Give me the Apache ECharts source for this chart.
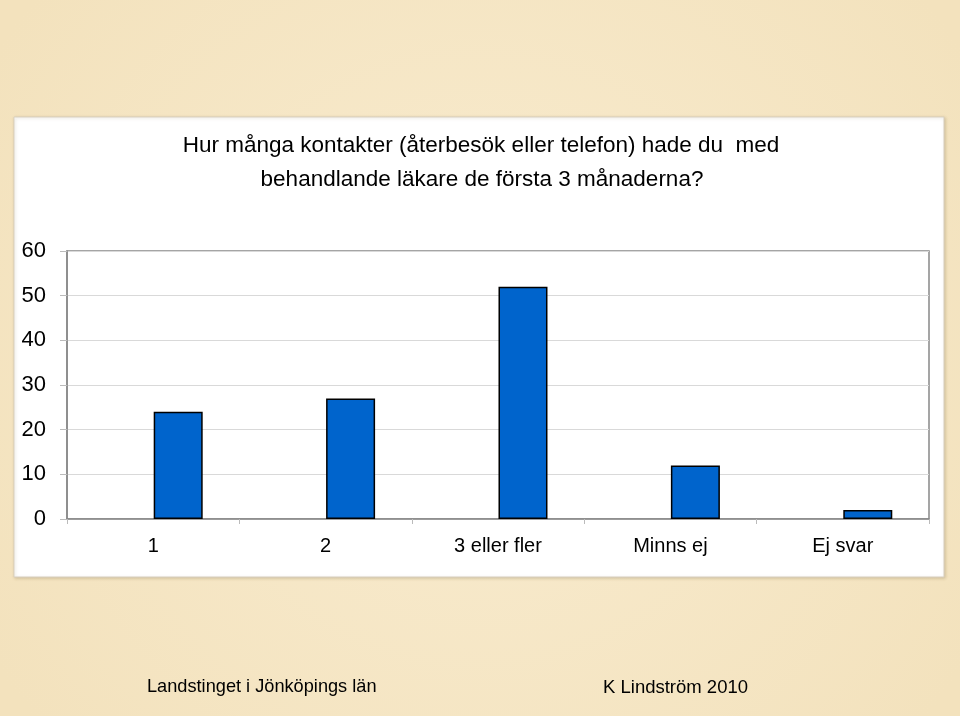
<!DOCTYPE html>
<html>
<head>
<meta charset="utf-8">
<script src="https://cdn.jsdelivr.net/npm/echarts@6/dist/echarts.min.js"></script>
<style>
html,body{margin:0;padding:0;background:#f6e8c8;}
#main{width:960px;height:716px;}
</style>
</head>
<body>
<div id="main"></div>
<script>
const titleLines = ['Hur många kontakter (återbesök eller telefon) hade du  med', 'behandlande läkare de första 3 månaderna?'];
const categories = ['1', '2', '3 eller fler', 'Minns ej', 'Ej svar'];
const values = [24, 27, 52, 12, 2];
const spacerValues = [null, null, null, null, null];
const yTicks = { min: 0, max: 60, interval: 10 };
const footerLeft = 'Landstinget i Jönköpings län';
const footerRight = 'K Lindström 2010';

const FONT = '"Liberation Sans", Arial, sans-serif';
const chart = echarts.init(document.getElementById('main'), null, { renderer: 'canvas' });

chart.setOption({
  animation: false,
  backgroundColor: {
    type: 'radial', x: 0.5, y: 0.5, r: 0.8,
    colorStops: [{ offset: 0, color: '#f9ecd0' }, { offset: 1, color: '#f3e2bd' }]
  },
  graphic: [
    {
      type: 'rect', z: -10,
      shape: { x: 14, y: 117, width: 930, height: 460 },
      style: { fill: '#ffffff', stroke: '#d8cfbf', lineWidth: 1, shadowColor: 'rgba(120,100,60,0.25)', shadowBlur: 3, shadowOffsetX: 1, shadowOffsetY: 1 }
    },
    {
      type: 'text', x: 481, y: 146, z: 10,
      style: { text: titleLines[0], font: '22.5px ' + FONT, fill: '#000', textAlign: 'center', textVerticalAlign: 'middle' }
    },
    {
      type: 'text', x: 482, y: 180, z: 10,
      style: { text: titleLines[1], font: '22.5px ' + FONT, fill: '#000', textAlign: 'center', textVerticalAlign: 'middle' }
    },
    {
      type: 'text', left: 147, top: 678,
      style: { text: footerLeft, font: '18.2px ' + FONT, fill: '#000' }
    },
    {
      type: 'text', left: 603, top: 678,
      style: { text: footerRight, font: '18.5px ' + FONT, fill: '#000' }
    }
  ],
  grid: {
    left: 67, right: 31, top: 251, bottom: 197,
    show: true, borderColor: '#888', borderWidth: 1.5, backgroundColor: '#fff'
  },
  xAxis: {
    type: 'category',
    data: categories,
    boundaryGap: true,
    axisLine: { show: true, lineStyle: { color: '#888', width: 1.5 } },
    axisTick: { show: true, length: 5, lineStyle: { color: '#bbb' } },
    axisLabel: { color: '#000', fontFamily: FONT, fontSize: 20, margin: 17 }
  },
  yAxis: {
    type: 'value',
    min: yTicks.min, max: yTicks.max, interval: yTicks.interval,
    axisLine: { show: true, lineStyle: { color: '#888', width: 1.5 } },
    axisTick: { show: true, length: 7, lineStyle: { color: '#bbb' } },
    splitLine: { show: true, lineStyle: { color: '#d9d9d9', width: 1 } },
    axisLabel: { color: '#000', fontFamily: FONT, fontSize: 22, margin: 21 }
  },
  series: [
    {
      type: 'bar', name: 'spacer', data: spacerValues,
      barWidth: 49, barGap: '2%', silent: true,
      itemStyle: { color: 'transparent' }
    },
    {
      type: 'bar', name: 'Antal', data: values,
      barWidth: 49, barGap: '2%',
      itemStyle: { color: '#0064cc', borderColor: '#000', borderWidth: 1.5 }
    }
  ]
});
</script>
</body>
</html>
